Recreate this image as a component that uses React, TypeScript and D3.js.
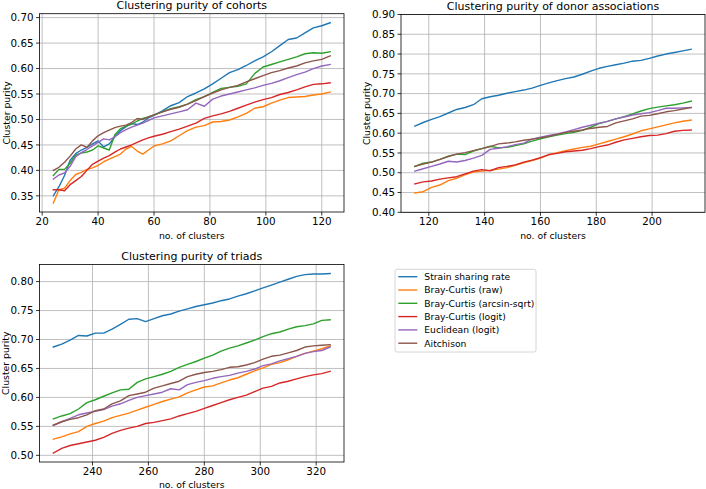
import React from "react";
import * as d3 from "d3";

const seriesNames = [
  "Strain sharing rate",
  "Bray-Curtis (raw)",
  "Bray-Curtis (arcsin-sqrt)",
  "Bray-Curtis (logit)",
  "Euclidean (logit)",
  "Aitchison",
];
const seriesColors = ["#1f77b4", "#ff7f0e", "#2ca02c", "#d62728", "#9467bd", "#8c564b"];

// ---- Panel 1: cohorts ----
const cohortX = [24, 26, 28, 30, 32, 34, 36, 38, 40, 42, 44, 46, 48, 50, 52, 54, 56, 58, 60, 63, 66, 69, 72, 75, 78, 81, 84, 87, 90, 93, 96, 99, 102, 105, 108, 111, 114, 117, 120, 123];
const cohortStrain = [0.350, 0.368, 0.390, 0.420, 0.433, 0.440, 0.445, 0.452, 0.458, 0.446, 0.452, 0.466, 0.478, 0.486, 0.492, 0.490, 0.495, 0.503, 0.508, 0.517, 0.527, 0.533, 0.545, 0.552, 0.560, 0.570, 0.581, 0.592, 0.598, 0.606, 0.615, 0.623, 0.633, 0.645, 0.657, 0.660, 0.670, 0.680, 0.684, 0.690];
const cohortBCraw = [0.336, 0.362, 0.365, 0.380, 0.392, 0.396, 0.402, 0.405, 0.410, 0.417, 0.422, 0.427, 0.432, 0.442, 0.447, 0.438, 0.432, 0.440, 0.448, 0.452, 0.458, 0.468, 0.478, 0.485, 0.488, 0.495, 0.496, 0.499, 0.505, 0.512, 0.522, 0.525, 0.532, 0.538, 0.543, 0.544, 0.545, 0.548, 0.550, 0.554];
const cohortBCasin = [0.390, 0.402, 0.402, 0.414, 0.430, 0.434, 0.436, 0.440, 0.448, 0.444, 0.440, 0.470, 0.482, 0.487, 0.491, 0.497, 0.502, 0.505, 0.509, 0.515, 0.521, 0.525, 0.530, 0.539, 0.545, 0.553, 0.561, 0.563, 0.565, 0.570, 0.590, 0.603, 0.608, 0.613, 0.618, 0.623, 0.629, 0.631, 0.630, 0.633];
const cohortBClogit = [0.362, 0.362, 0.360, 0.372, 0.380, 0.388, 0.400, 0.412, 0.418, 0.424, 0.429, 0.436, 0.442, 0.446, 0.450, 0.455, 0.460, 0.464, 0.467, 0.471, 0.476, 0.481, 0.487, 0.493, 0.502, 0.507, 0.511, 0.516, 0.522, 0.528, 0.534, 0.539, 0.543, 0.549, 0.553, 0.558, 0.564, 0.569, 0.570, 0.572];
const cohortEuc = [0.383, 0.391, 0.395, 0.408, 0.427, 0.435, 0.441, 0.448, 0.455, 0.462, 0.460, 0.466, 0.474, 0.480, 0.485, 0.489, 0.493, 0.498, 0.503, 0.507, 0.511, 0.515, 0.519, 0.532, 0.526, 0.540, 0.546, 0.550, 0.554, 0.558, 0.562, 0.567, 0.571, 0.576, 0.582, 0.588, 0.593, 0.600, 0.605, 0.608];
const cohortAitch = [0.400, 0.406, 0.416, 0.428, 0.442, 0.450, 0.445, 0.458, 0.468, 0.474, 0.479, 0.484, 0.487, 0.489, 0.494, 0.502, 0.500, 0.505, 0.509, 0.515, 0.520, 0.524, 0.530, 0.537, 0.545, 0.552, 0.558, 0.563, 0.567, 0.574, 0.580, 0.586, 0.592, 0.596, 0.601, 0.605, 0.611, 0.615, 0.618, 0.625];
const cohortXTicks = [20, 40, 60, 80, 100, 120];
const cohortYTicks = [0.35, 0.40, 0.45, 0.50, 0.55, 0.60, 0.65, 0.70];

// ---- Panel 2: donor associations ----
const donorX = [115, 118, 121, 124, 127, 130, 133, 136, 139, 142, 145, 148, 151, 154, 157, 160, 163, 166, 169, 172, 175, 178, 181, 184, 187, 190, 193, 196, 199, 202, 205, 208, 211, 214];
const donorStrain = [0.618, 0.627, 0.635, 0.642, 0.651, 0.660, 0.665, 0.672, 0.687, 0.692, 0.696, 0.701, 0.705, 0.709, 0.714, 0.721, 0.727, 0.733, 0.738, 0.742, 0.749, 0.757, 0.764, 0.769, 0.773, 0.777, 0.782, 0.784, 0.789, 0.795, 0.800, 0.804, 0.808, 0.812];
const donorBCraw = [0.449, 0.452, 0.463, 0.469, 0.480, 0.486, 0.495, 0.502, 0.504, 0.506, 0.509, 0.513, 0.519, 0.525, 0.531, 0.537, 0.545, 0.551, 0.556, 0.560, 0.564, 0.567, 0.573, 0.579, 0.585, 0.591, 0.598, 0.606, 0.611, 0.616, 0.621, 0.626, 0.630, 0.633];
const donorBCasin = [0.516, 0.524, 0.527, 0.534, 0.542, 0.547, 0.546, 0.555, 0.561, 0.567, 0.563, 0.564, 0.569, 0.573, 0.580, 0.586, 0.591, 0.595, 0.599, 0.602, 0.607, 0.615, 0.624, 0.630, 0.636, 0.642, 0.649, 0.656, 0.662, 0.666, 0.669, 0.672, 0.676, 0.681];
const donorBClogit = [0.472, 0.477, 0.479, 0.484, 0.487, 0.490, 0.497, 0.504, 0.508, 0.505, 0.513, 0.516, 0.520, 0.527, 0.532, 0.538, 0.546, 0.549, 0.553, 0.555, 0.557, 0.561, 0.566, 0.570, 0.577, 0.583, 0.587, 0.591, 0.594, 0.595, 0.599, 0.605, 0.607, 0.608];
const donorEuc = [0.504, 0.510, 0.516, 0.522, 0.529, 0.527, 0.531, 0.537, 0.544, 0.559, 0.562, 0.566, 0.571, 0.575, 0.585, 0.590, 0.594, 0.598, 0.603, 0.609, 0.615, 0.620, 0.625, 0.630, 0.636, 0.641, 0.646, 0.649, 0.652, 0.657, 0.663, 0.663, 0.664, 0.665];
const donorAitch = [0.516, 0.522, 0.527, 0.534, 0.541, 0.547, 0.551, 0.556, 0.561, 0.566, 0.573, 0.575, 0.578, 0.582, 0.585, 0.588, 0.592, 0.597, 0.602, 0.605, 0.608, 0.612, 0.615, 0.617, 0.626, 0.631, 0.636, 0.643, 0.645, 0.649, 0.654, 0.657, 0.661, 0.665];
const donorXTicks = [120, 140, 160, 180, 200];
const donorYTicks = [0.40, 0.45, 0.50, 0.55, 0.60, 0.65, 0.70, 0.75, 0.80, 0.85, 0.90];
const donorYLim = [0.4, 0.9];

// ---- Panel 3: triads ----
const triadX = [226, 229, 232, 235, 238, 241, 244, 247, 250, 253, 256, 259, 262, 265, 268, 271, 274, 277, 280, 283, 286, 289, 292, 295, 298, 301, 304, 307, 310, 313, 316, 319, 322, 325];
const triadStrain = [0.687, 0.692, 0.699, 0.707, 0.706, 0.711, 0.711, 0.718, 0.726, 0.735, 0.736, 0.731, 0.736, 0.741, 0.744, 0.749, 0.753, 0.757, 0.760, 0.763, 0.767, 0.770, 0.775, 0.779, 0.784, 0.789, 0.794, 0.799, 0.804, 0.809, 0.812, 0.813, 0.813, 0.814];
const triadBCraw = [0.528, 0.532, 0.537, 0.541, 0.550, 0.555, 0.559, 0.565, 0.569, 0.573, 0.578, 0.583, 0.588, 0.593, 0.597, 0.601, 0.608, 0.613, 0.618, 0.620, 0.625, 0.630, 0.634, 0.640, 0.646, 0.651, 0.657, 0.660, 0.665, 0.671, 0.676, 0.680, 0.684, 0.689];
const triadBCasin = [0.563, 0.568, 0.572, 0.580, 0.591, 0.596, 0.602, 0.608, 0.613, 0.614, 0.626, 0.632, 0.636, 0.640, 0.645, 0.652, 0.657, 0.662, 0.668, 0.673, 0.680, 0.685, 0.689, 0.694, 0.699, 0.705, 0.710, 0.713, 0.718, 0.722, 0.724, 0.727, 0.733, 0.734];
const triadBClogit = [0.504, 0.512, 0.517, 0.520, 0.523, 0.526, 0.531, 0.538, 0.543, 0.547, 0.550, 0.555, 0.557, 0.560, 0.563, 0.568, 0.572, 0.576, 0.581, 0.586, 0.591, 0.596, 0.600, 0.604, 0.610, 0.616, 0.619, 0.625, 0.628, 0.632, 0.636, 0.639, 0.641, 0.645];
const triadEuc = [0.552, 0.558, 0.564, 0.570, 0.573, 0.576, 0.579, 0.585, 0.589, 0.595, 0.600, 0.603, 0.606, 0.609, 0.615, 0.613, 0.622, 0.626, 0.629, 0.633, 0.636, 0.638, 0.642, 0.645, 0.649, 0.655, 0.658, 0.663, 0.667, 0.671, 0.676, 0.679, 0.681, 0.687];
const triadAitch = [0.552, 0.558, 0.562, 0.565, 0.570, 0.577, 0.580, 0.589, 0.594, 0.603, 0.606, 0.609, 0.616, 0.620, 0.624, 0.628, 0.636, 0.640, 0.643, 0.645, 0.648, 0.652, 0.653, 0.656, 0.660, 0.666, 0.671, 0.673, 0.677, 0.681, 0.687, 0.689, 0.690, 0.691];
const triadXTicks = [240, 260, 280, 300, 320];
const triadYTicks = [0.50, 0.55, 0.60, 0.65, 0.70, 0.75, 0.80];

const FONT = "DejaVu Sans";
const TICK_FS = 10.3;
const LABEL_FS = 9.3;
const TITLE_FS = 11;
const LEGEND_FS = 9.2;

function padExtent(vals: number[]): [number, number] {
  const [a, b] = d3.extent(vals) as [number, number];
  const m = (b - a) * 0.05;
  return [a - m, b + m];
}

type PanelProps = {
  title: string;
  xs: number[];
  series: number[][];
  xTicks: number[];
  yTicks: number[];
  yLim?: number[];
  left: number;
  right: number;
  top: number;
  bottom: number;
  yLabelX: number;
  xLabelY: number;
};

function Panel(p: PanelProps) {
  const xDom = padExtent(p.xs);
  const yDom = p.yLim ? (p.yLim as [number, number]) : padExtent(p.series.flat());
  const x = d3.scaleLinear().domain(xDom).range([p.left, p.right]);
  const y = d3.scaleLinear().domain(yDom).range([p.bottom, p.top]);
  const line = d3
    .line<number>()
    .x((_, i) => x(p.xs[i]))
    .y((d) => y(d));
  const cx = (p.left + p.right) / 2;
  const cy = (p.top + p.bottom) / 2;
  return (
    <g>
      {p.xTicks.map((t) => (
        <line key={"gx" + t} x1={x(t)} x2={x(t)} y1={p.top} y2={p.bottom} stroke="#b0b0b0" strokeWidth={0.8} />
      ))}
      {p.yTicks.map((t) => (
        <line key={"gy" + t} x1={p.left} x2={p.right} y1={y(t)} y2={y(t)} stroke="#b0b0b0" strokeWidth={0.8} />
      ))}
      {p.series.map((s, i) => (
        <path key={"s" + i} d={line(s) || ""} fill="none" stroke={seriesColors[i]} strokeWidth={1.4} strokeLinejoin="round" strokeLinecap="square" />
      ))}
      <rect x={p.left} y={p.top} width={p.right - p.left} height={p.bottom - p.top} fill="none" stroke="#000" strokeWidth={0.8} />
      {p.xTicks.map((t) => (
        <g key={"tx" + t}>
          <line x1={x(t)} x2={x(t)} y1={p.bottom} y2={p.bottom + 3.5} stroke="#000" strokeWidth={0.8} />
          <text x={x(t)} y={p.bottom + 13} textAnchor="middle" fontSize={TICK_FS} fontFamily={FONT} fill="#000">
            {d3.format("d")(t)}
          </text>
        </g>
      ))}
      {p.yTicks.map((t) => (
        <g key={"ty" + t}>
          <line x1={p.left - 3.5} x2={p.left} y1={y(t)} y2={y(t)} stroke="#000" strokeWidth={0.8} />
          <text x={p.left - 6} y={y(t) + 3.7} textAnchor="end" fontSize={TICK_FS} fontFamily={FONT} fill="#000">
            {d3.format(".2f")(t)}
          </text>
        </g>
      ))}
      <text x={cx} y={p.top - 4.3} textAnchor="middle" fontSize={TITLE_FS} fontFamily={FONT} fill="#000">
        {p.title}
      </text>
      <text x={cx} y={p.xLabelY} textAnchor="middle" fontSize={LABEL_FS} fontFamily={FONT} fill="#000">
        no. of clusters
      </text>
      <text
        transform={`translate(${p.yLabelX},${cy}) rotate(-90)`}
        textAnchor="middle"
        fontSize={LABEL_FS}
        fontFamily={FONT}
        fill="#000"
      >
        Cluster purity
      </text>
    </g>
  );
}

function Legend() {
  const x0 = 395;
  const y0 = 269.3;
  const rowH = 13.3;
  return (
    <g>
      <rect x={x0} y={y0} width={141} height={82.7} rx={2} ry={2} fill="#fff" fillOpacity={0.8} stroke="#cccccc" strokeWidth={0.8} />
      {seriesNames.map((n, i) => {
        const yy = y0 + 7.4 + i * rowH;
        return (
          <g key={n}>
            <line x1={x0 + 3.3} x2={x0 + 22.3} y1={yy} y2={yy} stroke={seriesColors[i]} strokeWidth={1.4} />
            <text x={x0 + 29.3} y={yy + 3.3} fontSize={LEGEND_FS} fontFamily={FONT} fill="#000">
              {n}
            </text>
          </g>
        );
      })}
    </g>
  );
}

export default function App() {
  return (
    <svg width={706} height={489} style={{ position: "absolute", left: 0, top: 0, background: "#fff" }}>
      <rect x={0} y={0} width={706} height={489} fill="#fff" />
      <Panel
        title="Clustering purity of cohorts"
        xs={cohortX}
        series={[cohortStrain, cohortBCraw, cohortBCasin, cohortBClogit, cohortEuc, cohortAitch]}
        xTicks={cohortXTicks}
        yTicks={cohortYTicks}
        left={39.5}
        right={344}
        top={13.7}
        bottom={212}
        yLabelX={9.5}
        xLabelY={238.5}
      />
      <Panel
        title="Clustering purity of donor associations"
        xs={donorX}
        series={[donorStrain, donorBCraw, donorBCasin, donorBClogit, donorEuc, donorAitch]}
        xTicks={donorXTicks}
        yTicks={donorYTicks}
        yLim={donorYLim}
        left={401}
        right={705}
        top={14.5}
        bottom={212.3}
        yLabelX={370}
        xLabelY={239}
      />
      <Panel
        title="Clustering purity of triads"
        xs={triadX}
        series={[triadStrain, triadBCraw, triadBCasin, triadBClogit, triadEuc, triadAitch]}
        xTicks={triadXTicks}
        yTicks={triadYTicks}
        left={39.5}
        right={344}
        top={264.5}
        bottom={462}
        yLabelX={9}
        xLabelY={488}
      />
      <Legend />
    </svg>
  );
}
